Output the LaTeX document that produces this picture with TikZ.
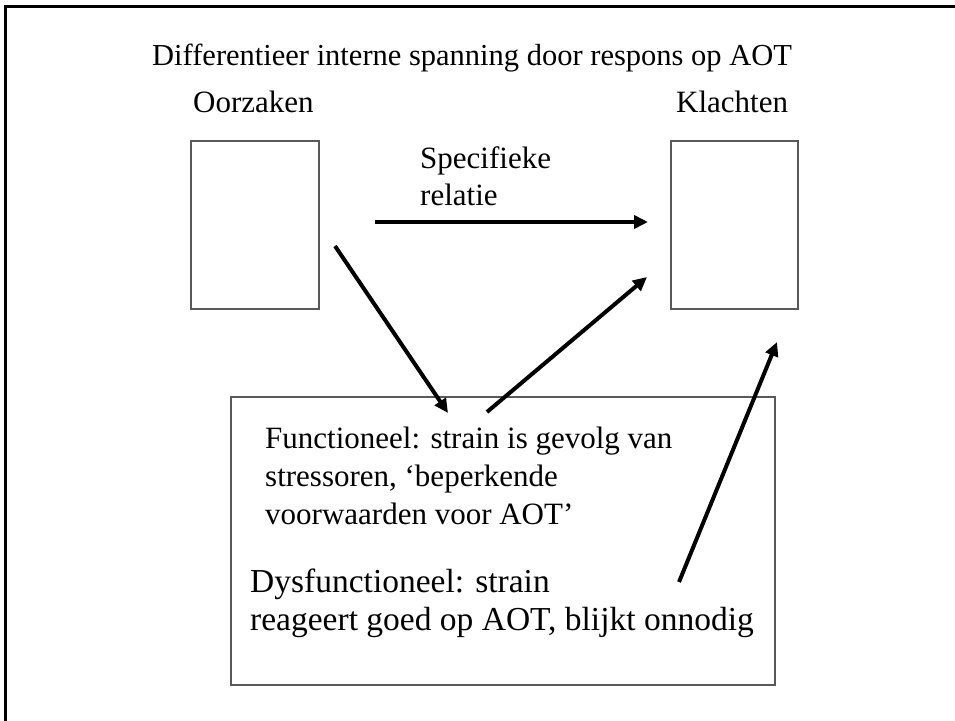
\documentclass[tikz,border=0pt]{standalone}
\usepackage{fontspec}
\setmainfont{Liberation Serif}
\usetikzlibrary{arrows.meta}
\begin{document}
\begin{tikzpicture}[x=1pt,y=-1pt,
  box/.style={draw=black!65,line width=1.2pt},
  arr/.style={line width=4pt,-{Triangle[length=14pt,width=13pt]}},
  txt/.style={anchor=base west,inner sep=0pt,font=\fontsize{31}{37}\selectfont},
  bigtxt/.style={txt,font=\fontsize{33.5}{37}\selectfont}]
\useasboundingbox (0,0) rectangle (955,720);
\clip (0,0) rectangle (955,720);
\draw[line width=3pt] (5,760) -- (5,6) -- (990,6);
\node[txt,font=\fontsize{30.5}{37}\selectfont] (title) at (152,65) {Differentieer interne spanning door respons op AOT};
\node[txt] (oorz) at (193,112) {Oorzaken};
\node[txt] (klac) at (676,112) {Klachten};
\node[box,minimum width=128pt,minimum height=168pt,inner sep=0pt] (L) at (255,225) {};
\node[box,minimum width=127pt,minimum height=168pt,inner sep=0pt] (R) at (734.5,225) {};
\node[box,minimum width=544pt,minimum height=288pt,inner sep=0pt] (B) at (503,541) {};
\node[txt] (spec1) at (420,168) {Specifieke};
\node[txt] (spec2) at (420,205) {relatie};
\node[txt] (f1) at (265,448) {Functioneel: strain is gevolg van};
\node[txt] (f2) at (265,486) {stressoren, ‘beperkende};
\node[txt] (f3) at (265,524) {voorwaarden voor AOT’};
\node[bigtxt] (d1) at (250,592) {Dysfunctioneel: strain};
\node[bigtxt] (d2) at (250,630) {reageert goed op AOT, blijkt onnodig};
\coordinate (a1s) at (375,222); \coordinate (a1e) at (648,222);
\coordinate (a2s) at (335,246); \coordinate (a2e) at (448,413);
\coordinate (a3s) at (487,412); \coordinate (a3e) at (647,277);
\coordinate (a4s) at (679,582); \coordinate (a4e) at (777,342);
\draw[arr] (a1s) -- (a1e);
\draw[arr] (a2s) -- (a2e);
\draw[arr] (a3s) -- (a3e);
\draw[arr] (a4s) -- (a4e);
\end{tikzpicture}
\end{document}
